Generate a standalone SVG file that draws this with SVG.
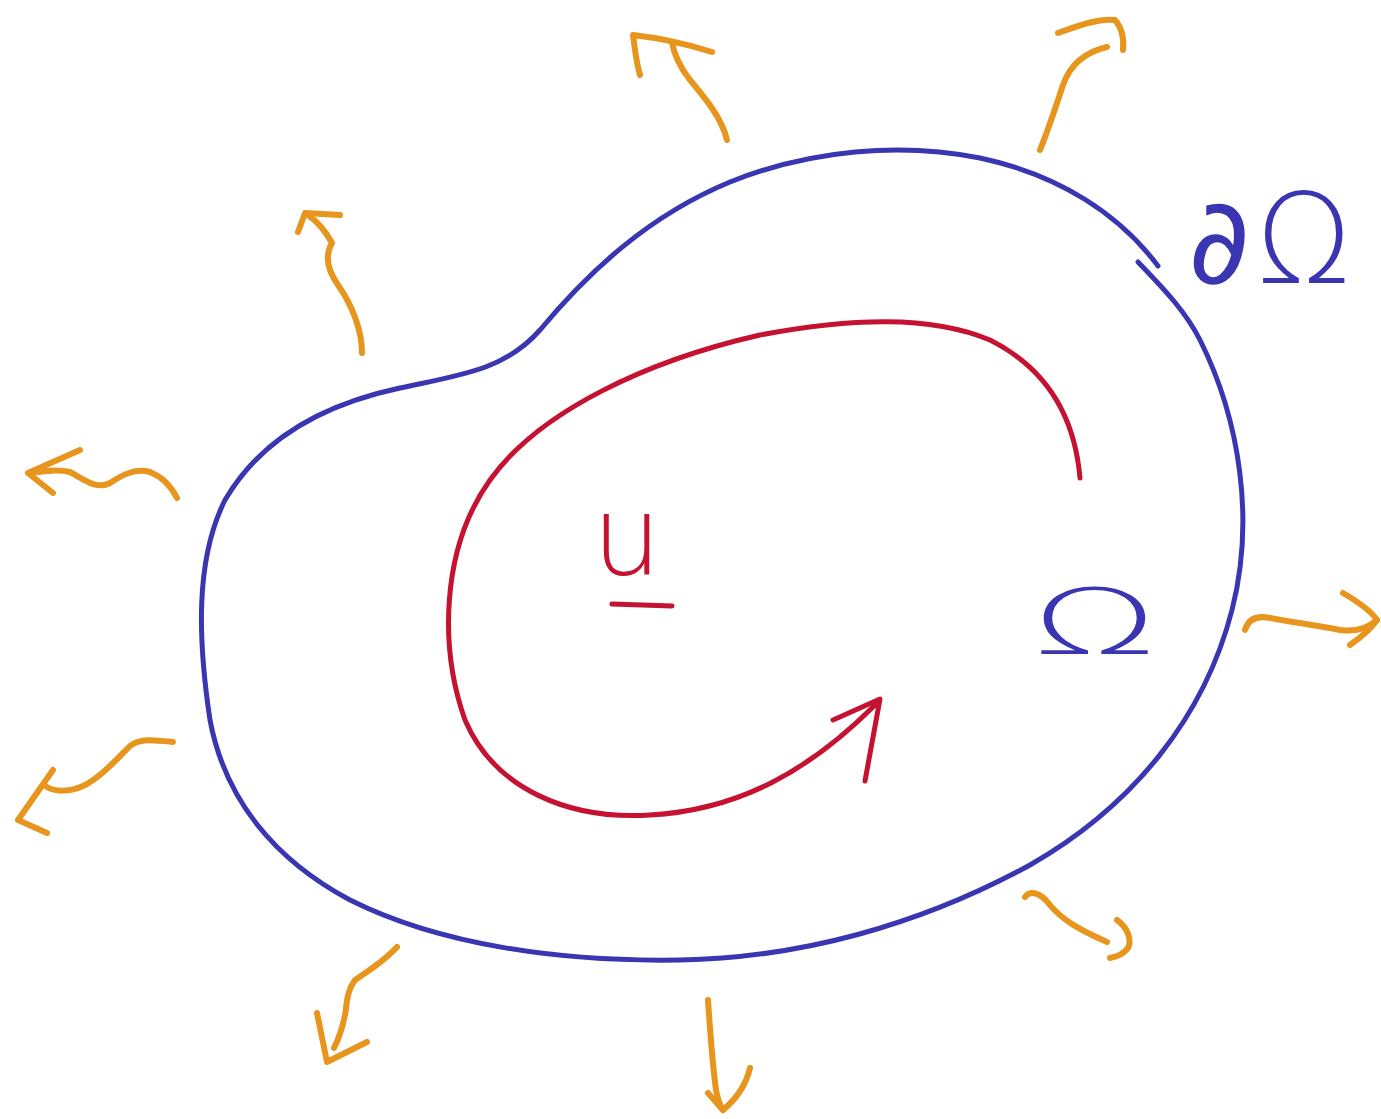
<svg xmlns="http://www.w3.org/2000/svg" width="1381" height="1119" viewBox="0 0 1381 1119">
<style>
.blue{fill:none;stroke:#3a36b2;stroke-width:5;stroke-linecap:round;stroke-linejoin:round}
.red{fill:none;stroke:#c41230;stroke-width:5;stroke-linecap:round;stroke-linejoin:round}
.or{fill:none;stroke:#e8951e;stroke-width:6;stroke-linecap:round;stroke-linejoin:round}
.lb{font-family:"DejaVu Sans",sans-serif;font-weight:200;fill:#3a36b2}
.lr{font-family:"DejaVu Sans",sans-serif;font-weight:200;fill:#c41230}
.reg{font-family:"DejaVu Sans",sans-serif;font-weight:400;fill:#3a36b2}
</style>
<rect width="1381" height="1119" fill="#ffffff"/>
<g id="region">
<path class="blue" d="M1158,266 C1120,215 1060,175 980,158 C900,142 810,150 730,182 C650,215 590,270 540,330 C505,370 460,375 400,388 C320,405 260,440 225,500 C195,560 198,640 210,720 C225,800 275,860 350,900 C440,945 560,962 680,960 C800,958 920,925 1030,865 C1135,805 1205,715 1232,610 C1255,520 1240,420 1200,340 C1185,310 1160,285 1138,262"/>
</g>
<g id="flow">
<path class="red" d="M1080,478 C1075,420 1050,370 990,340 C930,315 850,318 760,335 C650,360 540,410 490,480 C440,550 440,650 465,720 C495,790 570,820 650,815 C740,810 810,770 875,705"/>
<path class="red" d="M833,720 L880,699 L865,781"/>
</g>
<g id="outflow">
<path class="or" d="M727,140 C722,118 705,98 690,80 C680,67 674,55 672,42"/>
<path class="or" d="M712,52 C690,45 660,38 633,35 C635,50 636,62 640,75"/>
<path class="or" d="M1040,150 C1050,125 1058,100 1063,85 C1070,65 1085,52 1107,47"/>
<path class="or" d="M1058,33 C1080,25 1100,18 1115,20 C1122,28 1124,40 1123,50"/>
<path class="or" d="M362,353 C362,330 352,305 338,285 C326,268 325,255 332,243 C326,232 318,222 308,215"/>
<path class="or" d="M340,215 L305,213 L298,232"/>
<path class="or" d="M177,498 C172,488 165,478 150,472 C135,468 122,475 110,483 C97,490 85,480 70,472 C55,468 40,472 30,473"/>
<path class="or" d="M80,450 L28,473 L53,493"/>
<path class="or" d="M173,742 C155,740 140,738 130,746 C118,758 100,778 83,786 C70,792 55,792 47,787"/>
<path class="or" d="M53,770 L18,820 L47,833"/>
<path class="or" d="M397,947 C385,960 370,970 355,980 C346,992 347,1005 345,1015 C342,1030 338,1040 334,1048"/>
<path class="or" d="M317,1013 L327,1062 L367,1042"/>
<path class="or" d="M708,1000 C710,1030 712,1060 716,1090 C718,1100 720,1106 723,1110"/>
<path class="or" d="M708,1093 L723,1110 C735,1100 746,1085 750,1068"/>
<path class="or" d="M1025,897 C1030,890 1040,892 1050,905 C1062,920 1080,930 1107,942"/>
<path class="or" d="M1117,920 C1128,928 1132,940 1128,948 C1123,955 1115,957 1110,958"/>
<path class="or" d="M1245,630 C1248,620 1256,615 1270,618 C1290,622 1315,625 1340,630 C1355,632 1368,628 1377,620"/>
<path class="or" d="M1343,593 C1360,603 1372,612 1377,620 C1370,630 1360,638 1350,645"/>
</g>
<g id="labels">
<text class="reg" x="1188" y="283" font-size="120">∂</text>
<text class="lb" x="1256" y="283" font-size="125">Ω</text>
<text class="lb" x="1032" y="654" font-size="90" textLength="125" lengthAdjust="spacingAndGlyphs">Ω</text>
<text class="lr" x="592" y="575" font-size="110">u</text>
<line class="red" x1="612" y1="604" x2="672" y2="606"/>
</g>
</svg>
